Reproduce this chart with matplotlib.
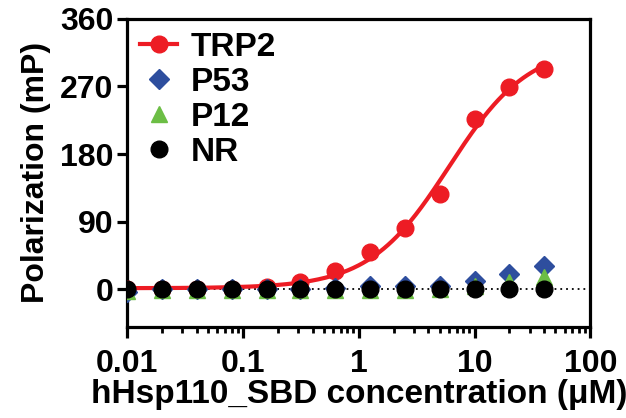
import numpy as np
import matplotlib
matplotlib.use("Agg")
import matplotlib.pyplot as plt
from matplotlib.ticker import LogLocator, FixedLocator, NullFormatter, FuncFormatter

# concentraciones de hHsp110_SBD (uM), diluciones 1:2
conc = [0.01, 0.02, 0.04, 0.08, 0.16, 0.3125, 0.625, 1.25, 2.5, 5, 10, 20, 40]

# polarizacion (mP) por peptido
trp2 = [0, 0, 0, 1, 3, 10, 24, 50, 82, 127, 226, 269, 293]
p53 = [-3, 0, 0, 0, 0, 1, 2, 4, 5, 5, 11, 21, 31]
p12 = [-2, -1, -1, -1, -1, -1, -1, -1, -1, 0, 4, 10, 17]
nr = [0, 0, 0, 0, 0, 0, 0, 0, 0, 0, 0, 0, 0]

yticks = [0, 90, 180, 270, 360]
xticks = [0.01, 0.1, 1, 10, 100]


def hill_fit(x, y):
    # busqueda en grilla de ec50 y n; bottom/top por minimos cuadrados
    x = np.asarray(x, float)
    y = np.asarray(y, float)
    best = None
    for lec in np.linspace(-1, 2, 301):
        ec = 10 ** lec
        for n in np.linspace(0.5, 3, 126):
            f = x ** n / (ec ** n + x ** n)
            A = np.column_stack([1 - f, f])
            coef, *_ = np.linalg.lstsq(A, y, rcond=None)
            err = np.sum((A @ coef - y) ** 2)
            if best is None or err < best[0]:
                best = (err, coef[0], coef[1], ec, n)
    _, bot, top, ec, n = best
    return lambda xx: bot + (top - bot) * xx ** n / (ec ** n + xx ** n)


plt.rcParams["font.family"] = ["Liberation Sans", "DejaVu Sans"]
plt.rcParams["font.weight"] = "bold"

fig = plt.figure(figsize=(6.26, 4.18), dpi=100)
ax = fig.add_axes([0.203, 0.218, 0.740, 0.737])

ax.axhline(0, color="black", ls=(0, (1, 2.2)), lw=1.3, zorder=1)

model = hill_fit(conc, trp2)
xf = np.logspace(np.log10(conc[0]), np.log10(conc[-1]), 300)
ax.plot(xf, model(xf), color="#ED1C24", lw=3, zorder=2)

ax.plot(conc, trp2, "o", color="#ED1C24", ms=12, zorder=3)
ax.plot(conc, p53, "D", color="#2E4E9E", ms=10, zorder=4)
ax.plot(conc, p12, "^", color="#6CBE45", ms=11, zorder=5)
ax.plot(conc, nr, "o", color="black", ms=12, zorder=6)

# entradas de leyenda
h_trp2, = ax.plot([], [], "-o", color="#ED1C24", ms=12, lw=3, label="TRP2")
h_p53, = ax.plot([], [], "D", color="#2E4E9E", ms=10, label="P53")
h_p12, = ax.plot([], [], "^", color="#6CBE45", ms=11, label="P12")
h_nr, = ax.plot([], [], "o", color="black", ms=12, label="NR")

ax.set_xscale("log")
ax.set_xlim(0.01, 100)
ax.set_ylim(-50, 360)
ax.xaxis.set_major_locator(FixedLocator(xticks))
ax.xaxis.set_major_formatter(FuncFormatter(lambda v, p: f"{v:g}"))
ax.xaxis.set_minor_locator(LogLocator(base=10, subs=np.arange(2, 10)))
ax.xaxis.set_minor_formatter(NullFormatter())
ax.set_yticks(yticks)

for s in ax.spines.values():
    s.set_linewidth(2.3)
ax.tick_params(axis="both", which="major", direction="out", length=7, width=2.3,
               labelsize=23, pad=3)
ax.tick_params(axis="x", which="minor", direction="out", length=4, width=2)
ax.tick_params(axis="x", which="major", length=8, pad=8)
for lab in ax.get_xticklabels() + ax.get_yticklabels():
    lab.set_fontweight("bold")

ax.set_xlabel("hHsp110_SBD concentration (\u03bcM)", fontsize=24,
              fontweight="bold", labelpad=0)
ax.set_ylabel("Polarization (mP)", fontsize=23, fontweight="bold", labelpad=6)

ax.legend(handles=[h_trp2, h_p53, h_p12, h_nr], loc="upper left",
          frameon=False, prop={"size": 24, "weight": "bold"},
          handlelength=1.1, handletextpad=0.4, labelspacing=0.12,
          borderaxespad=0.2, borderpad=0.2, numpoints=1)

fig.savefig("out.png", dpi=100)
